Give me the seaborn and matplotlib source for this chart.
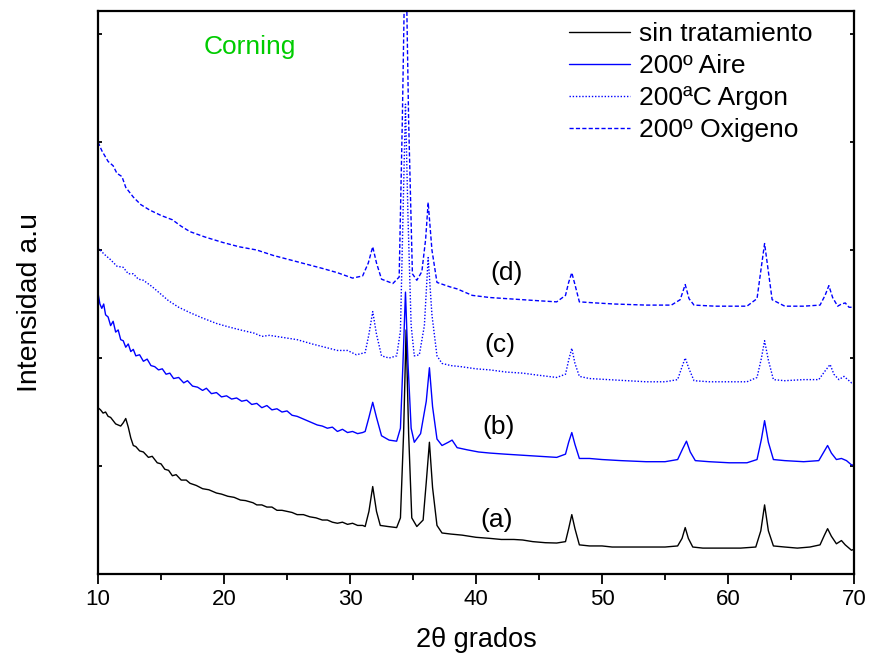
import matplotlib
matplotlib.use("Agg")
import matplotlib.pyplot as plt
import seaborn as sns
import pandas as pd

# 2-theta (degrees) and intensity (a.u., curves stacked with offsets)
x_a = [10.0, 10.2, 10.4, 10.6, 10.8, 11.0, 11.2, 11.4, 11.6, 11.8, 12.0, 12.2, 12.4, 12.6,
       12.8, 13.0, 13.3, 13.6, 14.0, 14.3, 14.7, 15.0, 15.3, 15.6, 15.9, 16.2, 16.6, 17.0,
       17.3, 17.8, 18.3, 18.8, 19.4, 19.8, 20.3, 20.8, 21.3, 21.7, 22.0, 22.3, 22.6, 23.0,
       23.4, 23.8, 24.2, 24.6, 25.0, 25.4, 25.8, 26.3, 26.8, 27.3, 27.8, 28.2, 28.6, 29.0,
       29.4, 29.8, 30.2, 30.6, 31.0, 31.2, 31.5, 31.8, 32.1, 32.4, 33.0, 33.7, 34.0, 34.25,
       34.45, 34.65, 34.9, 35.3, 35.8, 36.05, 36.3, 36.55, 36.9, 37.3, 38.0, 38.9, 40.0,
       41.1, 42.0, 43.0, 43.7, 44.5, 45.5, 46.4, 47.1, 47.35, 47.6, 47.85, 48.2, 49.0, 50.0,
       50.8, 52.0, 53.5, 55.0, 56.0, 56.35, 56.6, 56.85, 57.2, 58.0, 58.7, 60.0, 61.0, 62.2,
       62.6, 62.9, 63.2, 63.6, 64.5, 65.5, 66.5, 67.3, 67.65, 67.9, 68.2, 68.6, 69.0, 69.3,
       69.8, 70.0]
y_a = [1.54, 1.52, 1.49, 1.50, 1.46, 1.45, 1.42, 1.39, 1.38, 1.37, 1.40, 1.44, 1.36, 1.26,
       1.19, 1.18, 1.14, 1.13, 1.08, 1.09, 1.03, 1.02, 0.97, 0.96, 0.91, 0.92, 0.87, 0.87,
       0.84, 0.82, 0.79, 0.78, 0.75, 0.74, 0.72, 0.71, 0.685, 0.68, 0.67, 0.66, 0.64, 0.64,
       0.62, 0.62, 0.59, 0.59, 0.58, 0.57, 0.55, 0.55, 0.53, 0.52, 0.50, 0.50, 0.48, 0.47,
       0.48, 0.46, 0.47, 0.45, 0.45, 0.44, 0.58, 0.81, 0.58, 0.45, 0.44, 0.43, 0.52, 1.30,
       2.26, 1.30, 0.52, 0.44, 0.50, 0.85, 1.22, 0.80, 0.45, 0.38, 0.37, 0.36, 0.34,
       0.33, 0.32, 0.32, 0.315, 0.30, 0.29, 0.287, 0.30, 0.42, 0.55, 0.42, 0.27, 0.26, 0.26,
       0.25, 0.25, 0.25, 0.25, 0.26, 0.33, 0.43, 0.33, 0.25, 0.24, 0.24, 0.24, 0.24, 0.25,
       0.40, 0.64, 0.40, 0.26, 0.25, 0.24, 0.25, 0.27, 0.36, 0.42, 0.35, 0.28, 0.31, 0.27,
       0.22, 0.23]

x_b = [10.0, 10.15, 10.3, 10.45, 10.6, 10.8, 11.0, 11.2, 11.4, 11.6, 11.8, 12.0, 12.2, 12.4,
       12.6, 12.8, 13.0, 13.3, 13.6, 13.9, 14.2, 14.5, 14.8, 15.1, 15.4, 15.7, 16.0, 16.4,
       16.8, 17.1, 17.5, 17.9, 18.3, 18.6, 19.0, 19.4, 19.8, 20.2, 20.6, 21.0, 21.4, 21.8,
       22.2, 22.6, 23.0, 23.4, 23.8, 24.2, 24.6, 25.0, 25.4, 25.8, 26.2, 26.6, 27.0, 27.4,
       27.8, 28.2, 28.6, 29.0, 29.4, 29.8, 30.2, 30.6, 31.0, 31.2, 31.5, 31.8, 32.1, 32.5,
       33.1, 33.7, 34.0, 34.2, 34.4, 34.6, 34.85, 35.1, 35.6, 36.05, 36.3, 36.55, 36.9, 37.3,
       37.8, 38.1, 38.5, 39.3, 40.2, 41.1, 42.3, 43.7, 45.0, 46.4, 47.1, 47.35, 47.6, 47.85,
       48.2, 49.0, 50.0, 51.5, 53.5, 55.0, 56.0, 56.4, 56.7, 57.0, 57.4, 58.5, 60.1, 61.5,
       62.3, 62.65, 62.9, 63.2, 63.6, 64.5, 66.0, 67.2, 67.6, 67.9, 68.2, 68.6, 69.0, 69.4,
       69.8, 70.0]
y_b = [2.60, 2.50, 2.46, 2.50, 2.40, 2.38, 2.30, 2.34, 2.24, 2.26, 2.17, 2.16, 2.10, 2.13,
       2.06, 2.08, 2.02, 2.03, 1.97, 1.99, 1.93, 1.92, 1.89, 1.90, 1.85, 1.86, 1.81, 1.82,
       1.77, 1.79, 1.74, 1.73, 1.70, 1.72, 1.67, 1.68, 1.64, 1.65, 1.62, 1.63, 1.60, 1.61,
       1.57, 1.58, 1.54, 1.56, 1.52, 1.53, 1.50, 1.51, 1.47, 1.46, 1.44, 1.42, 1.40, 1.38,
       1.37, 1.35, 1.36, 1.32, 1.34, 1.31, 1.32, 1.30, 1.31, 1.32, 1.45, 1.59, 1.45, 1.28,
       1.24, 1.23, 1.35, 1.95, 2.61, 1.95, 1.35, 1.22, 1.30, 1.60, 1.91, 1.55, 1.25, 1.19,
       1.22, 1.24, 1.17, 1.15, 1.13, 1.12, 1.11, 1.10, 1.09, 1.08, 1.11, 1.22, 1.31, 1.20,
       1.07, 1.07, 1.06, 1.05, 1.04, 1.04, 1.06, 1.16, 1.23, 1.13, 1.05, 1.04, 1.03, 1.03,
       1.06, 1.25, 1.42, 1.22, 1.06, 1.05, 1.04, 1.05, 1.13, 1.19, 1.12, 1.06, 1.07, 1.05,
       1.01, 1.01]

x_c = [10.0, 10.5, 11.0, 11.5, 12.0, 12.4, 12.8, 13.2, 13.6, 14.3, 14.9, 15.6, 16.4, 17.3,
       18.3, 19.4, 20.3, 21.3, 22.4, 23.0, 23.6, 24.7, 25.8, 27.0, 28.0, 29.0, 29.8, 30.5,
       31.2, 31.5, 31.8, 32.1, 32.5, 33.1, 33.7, 34.0, 34.2, 34.4, 34.6, 34.85, 35.1, 35.5,
       35.9, 36.2, 36.5, 36.9, 37.3, 38.0, 38.8, 40.0, 41.1, 42.4, 43.7, 45.0, 46.4, 47.1,
       47.35, 47.6, 47.85, 48.2, 49.0, 50.5, 52.0, 53.5, 55.0, 56.0, 56.35, 56.6, 56.9, 57.3,
       58.5, 60.1, 61.5, 62.3, 62.65, 62.9, 63.2, 63.6, 64.5, 66.0, 67.2, 67.7, 68.1, 68.4,
       68.8, 69.2, 69.5, 69.8, 70.0]
y_c = [3.02, 2.96, 2.91, 2.85, 2.84, 2.78, 2.78, 2.73, 2.72, 2.66, 2.60, 2.53, 2.47, 2.42,
       2.37, 2.32, 2.29, 2.26, 2.23, 2.20, 2.21, 2.19, 2.17, 2.13, 2.10, 2.07, 2.07, 2.03,
       2.05, 2.22, 2.43, 2.22, 2.02, 2.00, 2.02, 2.25, 3.30, 4.35, 3.30, 2.30, 2.02, 2.03,
       2.30, 2.93, 2.40, 2.02, 1.95, 1.93, 1.92, 1.90, 1.89, 1.87, 1.86, 1.84, 1.82, 1.85,
       1.98, 2.09, 1.95, 1.83, 1.81, 1.80, 1.79, 1.78, 1.78, 1.80, 1.92, 2.00, 1.90, 1.79,
       1.78, 1.78, 1.78, 1.82, 2.00, 2.16, 1.98, 1.80, 1.79, 1.80, 1.80, 1.88, 1.94, 1.85,
       1.80, 1.83, 1.80, 1.77, 1.77]

x_d = [10.0, 10.3, 10.8, 11.2, 11.5, 11.9, 12.2, 12.8, 13.4, 14.1, 15.0, 15.9, 16.6, 17.3,
       18.5, 19.9, 21.2, 22.6, 23.9, 25.2, 26.5, 27.8, 29.0, 30.2, 31.0, 31.45, 31.8, 32.1,
       32.5, 33.4, 33.9, 34.15, 34.4, 34.65, 34.95, 35.3, 35.7, 36.0, 36.2, 36.5, 36.9, 37.4,
       37.9, 38.5, 39.7, 40.4, 41.1, 42.4, 43.7, 45.0, 46.4, 47.1, 47.35, 47.6, 47.85, 48.2,
       49.5, 51.0, 53.5, 55.5, 56.2, 56.6, 56.9, 57.3, 59.0, 60.1, 61.5, 62.3, 62.65, 62.9,
       63.2, 63.5, 64.5, 66.0, 67.3, 67.7, 68.0, 68.3, 68.7, 69.0, 69.3, 69.6, 70.0]
y_d = [4.00, 3.92, 3.82, 3.78, 3.71, 3.68, 3.58, 3.49, 3.42, 3.37, 3.32, 3.28, 3.22, 3.17,
       3.12, 3.07, 3.03, 3.00, 2.95, 2.91, 2.87, 2.83, 2.79, 2.74, 2.76, 2.88, 3.03, 2.88,
       2.73, 2.69, 2.75, 4.20, 6.00, 4.20, 2.78, 2.72, 2.80, 3.10, 3.44, 3.00, 2.70, 2.68,
       2.66, 2.64, 2.58, 2.57, 2.56, 2.55, 2.54, 2.53, 2.52, 2.58, 2.70, 2.79, 2.68, 2.52,
       2.51, 2.50, 2.49, 2.49, 2.54, 2.68, 2.55, 2.49, 2.48, 2.48, 2.48, 2.55, 2.85, 3.06,
       2.80, 2.54, 2.48, 2.48, 2.49, 2.58, 2.67, 2.56, 2.48, 2.50, 2.51, 2.47, 2.47]

series_names = ["sin tratamiento", "200º Aire", "200ªC Argon", "200º Oxigeno"]
curve_tags = ["(a)", "(b)", "(c)", "(d)"]
tag_x = [41.6, 41.8, 41.9, 42.4]
tag_y = [0.50, 1.36, 2.12, 2.79]
x_ticks = [10, 20, 30, 40, 50, 60, 70]

sns.set_style("ticks")
plt.rcParams["font.family"] = ["Liberation Sans", "DejaVu Sans"]
plt.rcParams["text.color"] = "black"
plt.rcParams["axes.labelcolor"] = "black"
plt.rcParams["xtick.color"] = "black"
plt.rcParams["ytick.color"] = "black"
plt.rcParams["axes.edgecolor"] = "black"

fig = plt.figure(figsize=(8.69, 6.63), dpi=100)
ax = fig.add_axes([0.1128, 0.1342, 0.8700, 0.8492])

styles = [
    dict(color="black", linestyle="-"),
    dict(color="#0000FF", linestyle="-"),
    dict(color="#0000FF", linestyle=(0, (1.0, 1.3))),
    dict(color="#0000FF", linestyle=(0, (3.0, 1.6))),
]
data = [(x_a, y_a), (x_b, y_b), (x_c, y_c), (x_d, y_d)]
for (xs, ys), name, st in zip(data, series_names, styles):
    df = pd.DataFrame({"x": xs, "y": ys})
    sns.lineplot(data=df, x="x", y="y", ax=ax, label=name, linewidth=1.0,
                 estimator=None, sort=False, **st)

ax.set_xlim(10, 70)
ax.set_ylim(0, 5.213)
ax.set_xticks(x_ticks)
ax.set_xticks(range(15, 70, 10), minor=True)
ax.set_yticks(range(0, 6))
ax.set_yticklabels([])
ax.tick_params(axis="x", which="major", direction="out", length=7, width=1.3,
               labelsize=16, pad=4)
ax.tick_params(axis="x", which="minor", direction="out", length=4, width=1.3)
ax.tick_params(axis="y", which="major", direction="in", length=3, width=1.3,
               left=True, right=True)
for sp in ax.spines.values():
    sp.set_linewidth(1.6)
    sp.set_visible(True)

ax.set_xlabel("2θ grados", fontsize=19.5, labelpad=12)
ax.set_ylabel("Intensidad a.u", fontsize=20.5)
ax.yaxis.set_label_coords(-0.073, 0.483)

ax.text(22.05, 4.88, "Corning", color="#00CC00", fontsize=19, ha="center", va="center")
for t, tx, ty in zip(curve_tags, tag_x, tag_y):
    ax.text(tx, ty, t, fontsize=19, ha="center", va="center")

leg = ax.legend(loc="upper left", bbox_to_anchor=(0.623, 0.98), frameon=False,
                fontsize=19, handlelength=2.3, handletextpad=0.35,
                labelspacing=0.3, borderpad=0.0, borderaxespad=0.0)

fig.savefig("out.png", dpi=100)
